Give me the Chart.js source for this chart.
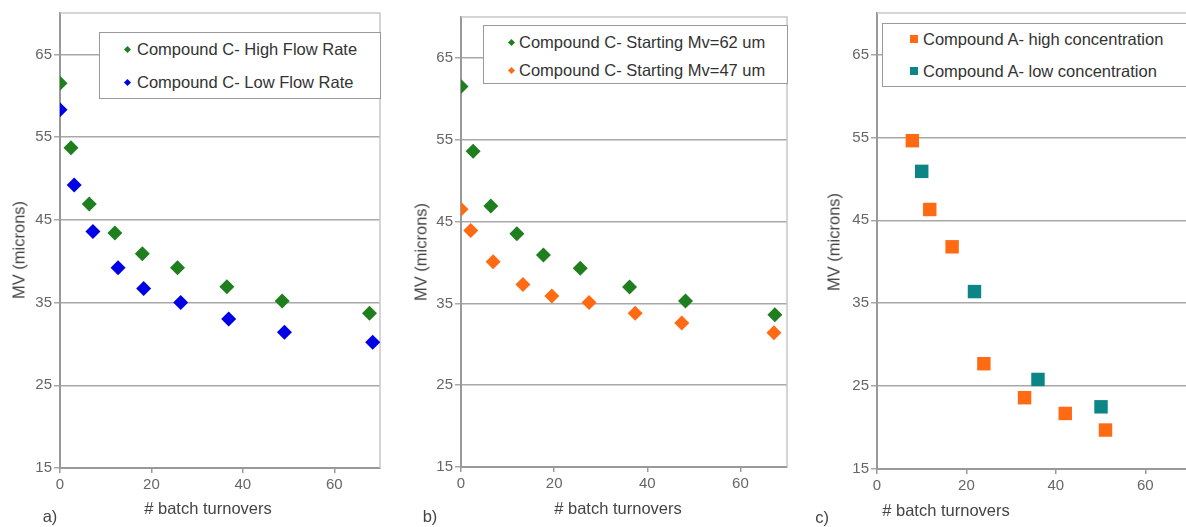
<!DOCTYPE html>
<html>
<head>
<meta charset="utf-8">
<script src="https://cdn.jsdelivr.net/npm/chart.js@4.4.0/dist/chart.umd.min.js"></script>
<style>
  body { margin: 0; width: 1186px; height: 527px; overflow: hidden; background: #fff; position: relative; font-family: "Liberation Sans", Arial, sans-serif; }
  canvas { position: absolute; top: 0; }
  .txt { position: absolute; color: #444; font-size: 16.5px; white-space: nowrap; }
  .ytitle { transform: translate(-50%, -50%) rotate(-90deg); }
  .xtitle { transform: translate(-50%, -50%); }
  .legend { position: absolute; background: #fff; border: 1px solid #999; font-size: 16.5px; color: #333; }
  .legend .row { position: absolute; white-space: nowrap; transform: translateY(-50%); }
  .legend .mk { position: absolute; }
</style>
</head>
<body>
<canvas id="chartA" width="400" height="527" style="left:0"></canvas>
<canvas id="chartB" width="400" height="527" style="left:400px"></canvas>
<canvas id="chartC" width="400" height="527" style="left:800px"></canvas>

<script>
// tick labels
const xTicks = [0, 20, 40, 60];
const yTicks = [15, 25, 35, 45, 55, 65];

// panel a
const aHighX = [0, 2.4, 6.4, 12, 18, 25.7, 36.5, 48.6, 67.7];
const aHighY = [61.5, 53.7, 46.9, 43.4, 40.9, 39.2, 36.9, 35.2, 33.7];
const aLowX = [0, 3.1, 7.2, 12.7, 18.3, 26.4, 36.9, 49.1, 68.4];
const aLowY = [58.3, 49.2, 43.6, 39.2, 36.7, 35.0, 33.0, 31.4, 30.2];

// panel b
const b62X = [0, 2.6, 6.4, 12, 17.7, 25.6, 36.2, 48.2, 67.4];
const b62Y = [61.5, 53.6, 46.9, 43.5, 40.9, 39.3, 37.0, 35.3, 33.6];
const b47X = [0, 2.1, 6.9, 13.3, 19.5, 27.5, 37.4, 47.4, 67.2];
const b47Y = [46.5, 43.9, 40.1, 37.3, 35.9, 35.1, 33.8, 32.6, 31.4];

// panel c
const cHighX = [7.9, 11.8, 16.8, 23.9, 33.0, 42.1, 51.1];
const cHighY = [54.6, 46.3, 41.8, 27.7, 23.6, 21.7, 19.7];
const cLowX = [10.0, 21.8, 36.0, 50.1];
const cLowY = [50.9, 36.4, 25.8, 22.5];

const GREEN = "#1f7f1f", BLUE = "#0000e6", ORANGE = "#ff6a12", TEAL = "#0b8585";

function pts(xs, ys) {
  return xs.map((x, i) => ({ x: x, y: ys[i] }));
}

// light frame on top and right of the plot area
const frame = {
  id: "frame",
  beforeDatasetsDraw(chart) {
    const a = chart.chartArea, c = chart.ctx;
    c.save();
    c.strokeStyle = "#c8c8c8";
    c.lineWidth = 1.5;
    c.beginPath();
    c.moveTo(a.left, a.top);
    c.lineTo(a.right, a.top);
    c.lineTo(a.right, a.bottom);
    c.stroke();
    c.restore();
  }
};

function makeChart(id, datasets, pad, xH) {
  return new Chart(document.getElementById(id), {
    type: "scatter",
    data: { datasets: datasets },
    plugins: [frame],
    options: {
      responsive: false,
      animation: false,
      layout: { padding: pad },
      plugins: { legend: { display: false }, tooltip: { enabled: false } },
      scales: {
        x: {
          type: "linear", min: 0, max: 70,
          afterBuildTicks: (s) => { s.ticks = xTicks.map(v => ({ value: v })); },
          afterFit: (s) => { s.height = xH; },
          ticks: { color: "#666", font: { size: 15, family: "Liberation Sans" }, padding: 3 },
          grid: { drawOnChartArea: false, tickLength: 5, color: "#999", lineWidth: 1.5 },
          border: { color: "#999", width: 2 }
        },
        y: {
          type: "linear", min: 15, max: 70,
          afterBuildTicks: (s) => { s.ticks = yTicks.map(v => ({ value: v })); },
          afterFit: (s) => { s.width = pad.yW; },
          ticks: { color: "#666", font: { size: 15, family: "Liberation Sans" }, padding: 2 },
          grid: { tickLength: 6, color: "#a8a8a8", lineWidth: 1.5 },
          border: { color: "#999", width: 2 }
        }
      }
    }
  });
}

makeChart("chartA", [
  { label: "Compound C- High Flow Rate", data: pts(aHighX, aHighY), pointStyle: "rectRot", pointRadius: 7.5, backgroundColor: GREEN, borderWidth: 0 },
  { label: "Compound C- Low Flow Rate", data: pts(aLowX, aLowY), pointStyle: "rectRot", pointRadius: 7.5, backgroundColor: BLUE, borderWidth: 0 }
], { left: 0, right: 20, top: 13, bottom: 0, yW: 60 }, 59);

makeChart("chartB", [
  { label: "Compound C- Starting Mv=62 um", data: pts(b62X, b62Y), pointStyle: "rectRot", pointRadius: 7.5, backgroundColor: GREEN, borderWidth: 0 },
  { label: "Compound C- Starting Mv=47 um", data: pts(b47X, b47Y), pointStyle: "rectRot", pointRadius: 7.5, backgroundColor: ORANGE, borderWidth: 0 }
], { left: 0, right: 13, top: 17, bottom: 0, yW: 61 }, 60);

makeChart("chartC", [
  { label: "Compound A- high concentration", data: pts(cHighX, cHighY), pointStyle: "rect", pointRadius: 9.5, backgroundColor: ORANGE, borderWidth: 0 },
  { label: "Compound A- low concentration", data: pts(cLowX, cLowY), pointStyle: "rect", pointRadius: 9.5, backgroundColor: TEAL, borderWidth: 0 }
], { left: 0, right: 10, top: 13, bottom: 0, yW: 77 }, 58);

// text outside the plot areas and legends
function addText(cls, text, x, y) {
  const d = document.createElement("div");
  d.className = "txt " + cls;
  d.textContent = text;
  d.style.left = x + "px";
  d.style.top = y + "px";
  document.body.appendChild(d);
}
addText("ytitle", "MV (microns)", 19, 250);
addText("ytitle", "MV (microns)", 421, 252);
addText("ytitle", "MV (microns)", 834, 242);
addText("xtitle", "# batch turnovers", 208, 508);
addText("xtitle", "# batch turnovers", 618, 508);
addText("xtitle", "# batch turnovers", 946, 510);
addText("xtitle", "a)", 50, 516);
addText("xtitle", "b)", 430, 516);
addText("xtitle", "c)", 822, 517);

function addLegend(box, items) {
  const L = document.createElement("div");
  L.className = "legend";
  L.style.left = box.x + "px"; L.style.top = box.y + "px";
  L.style.width = box.w + "px"; L.style.height = box.h + "px";
  items.forEach((it, i) => {
    const m = document.createElement("div");
    m.className = "mk";
    m.style.background = it.color;
    m.style.width = it.size + "px"; m.style.height = it.size + "px";
    m.style.left = (box.mx - it.size / 2) + "px";
    m.style.top = (box.rows[i] - it.size / 2) + "px";
    if (it.diamond) m.style.transform = "rotate(45deg)";
    L.appendChild(m);
    const r = document.createElement("div");
    r.className = "row";
    r.textContent = it.label;
    r.style.left = box.tx + "px";
    r.style.top = box.rows[i] + "px";
    L.appendChild(r);
  });
  document.body.appendChild(L);
}

addLegend({ x: 99, y: 32, w: 280, h: 65, mx: 27, tx: 37, rows: [16, 49] }, [
  { label: "Compound C- High Flow Rate", color: GREEN, size: 5, diamond: true },
  { label: "Compound C- Low Flow Rate", color: BLUE, size: 5, diamond: true }
]);
addLegend({ x: 483, y: 25, w: 303, h: 57, mx: 27, tx: 35, rows: [16, 44] }, [
  { label: "Compound C- Starting Mv=62 um", color: GREEN, size: 5, diamond: true },
  { label: "Compound C- Starting Mv=47 um", color: ORANGE, size: 5, diamond: true }
]);
addLegend({ x: 882, y: 23, w: 320, h: 62, mx: 31, tx: 40, rows: [15, 47] }, [
  { label: "Compound A- high concentration", color: ORANGE, size: 8, diamond: false },
  { label: "Compound A- low concentration", color: TEAL, size: 8, diamond: false }
]);
</script>
</body>
</html>
